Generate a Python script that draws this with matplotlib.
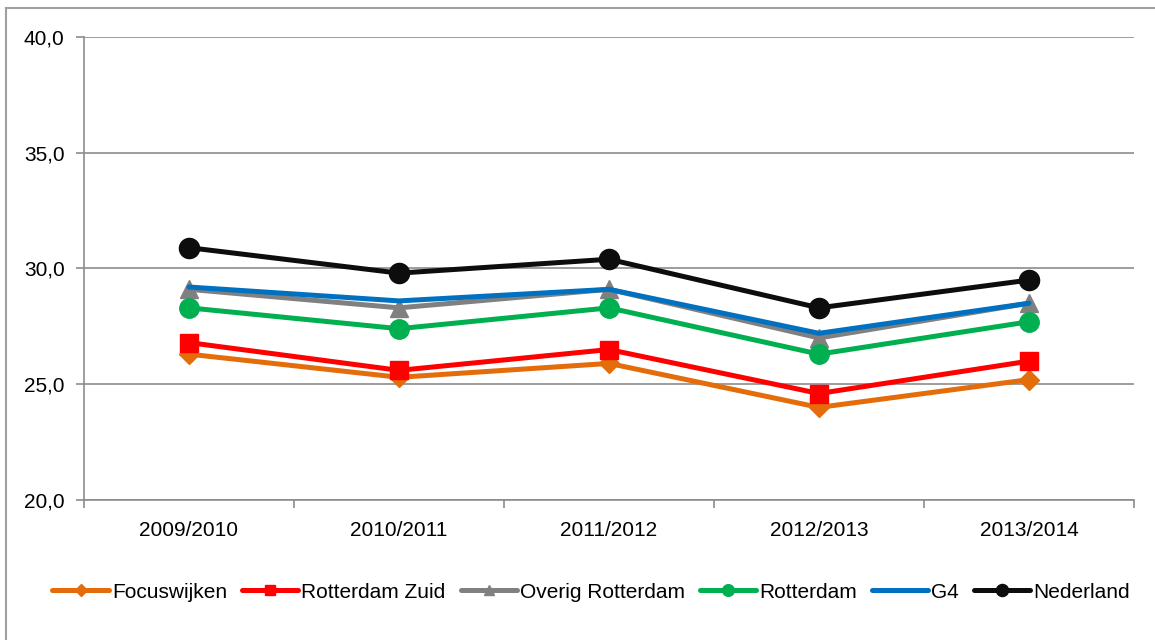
import matplotlib
matplotlib.use("Agg")
import matplotlib.pyplot as plt
from matplotlib.lines import Line2D

plt.rcParams['font.family'] = ['Liberation Sans', 'DejaVu Sans']

# school years on the x axis
years = ['2009/2010', '2010/2011', '2011/2012', '2012/2013', '2013/2014']

# values
focuswijken = [26.3, 25.3, 25.9, 24.0, 25.2]
rotterdam_zuid = [26.8, 25.6, 26.5, 24.6, 26.0]
overig_rotterdam = [29.1, 28.3, 29.1, 27.0, 28.5]
rotterdam = [28.3, 27.4, 28.3, 26.3, 27.7]
g4 = [29.2, 28.6, 29.1, 27.2, 28.5]
nederland = [30.9, 29.8, 30.4, 28.3, 29.5]

series = [
    ('Focuswijken', focuswijken, '#E46C0A', 'D', 10),
    ('Rotterdam Zuid', rotterdam_zuid, '#FF0000', 's', 13),
    ('Overig Rotterdam', overig_rotterdam, '#808080', '^', 13),
    ('Rotterdam', rotterdam, '#00B050', 'o', 14),
    ('G4', g4, '#0070C0', None, 0),
    ('Nederland', nederland, '#0D0D0D', 'o', 14.5),
]

fig = plt.figure(figsize=(11.55, 6.4), dpi=100)
ax = fig.add_axes([84 / 1155, 1 - 500 / 640, 1050 / 1155, 463 / 640])

x = list(range(len(years)))
handles = []
for name, vals, col, mk, ms in series:
    ax.plot(x, vals, color=col, lw=3.6, marker=mk, markersize=ms,
            solid_capstyle='round', solid_joinstyle='round', zorder=3)
    handles.append(Line2D([], [], color=col, lw=3.6, marker=mk,
                          markersize=ms * 0.6, solid_capstyle='round'))

ax.set_xlim(-0.5, len(years) - 0.5)
ax.set_ylim(20, 40)
ax.set_yticks([20, 25, 30, 35, 40])
ax.set_yticklabels(['20,0', '25,0', '30,0', '35,0', '40,0'])
ax.set_xticks(x)
ax.set_xticklabels(years)
ax.set_xticks([i - 0.5 for i in range(len(years) + 1)], minor=True)

grid_col = '#8C8C8C'
ax.yaxis.grid(True, color=grid_col, lw=1.2)
ax.set_axisbelow(True)
for s in ['top', 'right']:
    ax.spines[s].set_visible(False)
for s in ['left', 'bottom']:
    ax.spines[s].set_color(grid_col)
    ax.spines[s].set_linewidth(1.2)

ax.tick_params(axis='y', colors=grid_col, length=6, width=1.2, labelcolor='black',
               labelsize=15, pad=8)
ax.tick_params(axis='x', which='major', length=0, labelsize=15, pad=15)
ax.tick_params(axis='x', which='minor', colors=grid_col, length=6, width=1.2)

fig.legend(handles, [s[0] for s in series], loc='center', bbox_to_anchor=(0.512, 1 - 592 / 640),
           ncol=6, frameon=False, fontsize=15, handlelength=2.7, handletextpad=0.15,
           columnspacing=0.72)

# outer chart frame (Excel-style)
fig.add_artist(Line2D([6 / 1155, 6 / 1155], [0, 1 - 8 / 640], color='#A0A0A0', lw=1.5,
                      transform=fig.transFigure))
fig.add_artist(Line2D([6 / 1155, 1], [1 - 8 / 640, 1 - 8 / 640], color='#A0A0A0', lw=1.5,
                      transform=fig.transFigure))

fig.savefig('out.png', dpi=100)
